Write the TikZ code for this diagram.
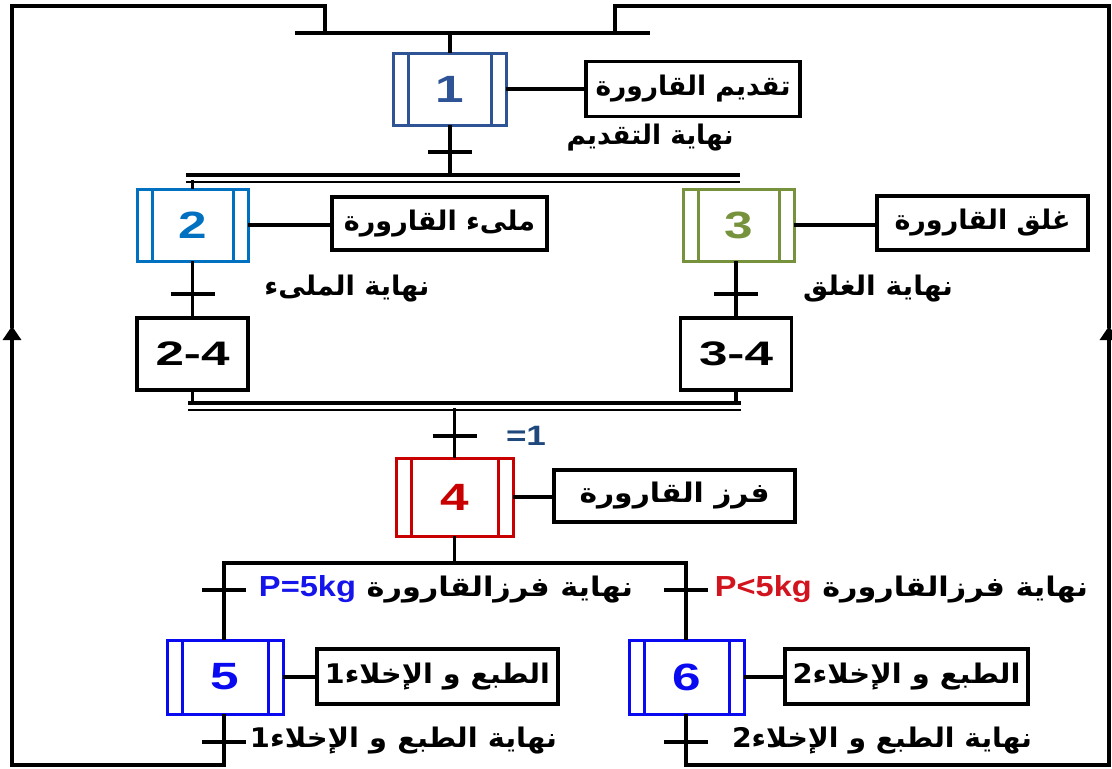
\documentclass[tikz,border=0pt]{standalone}
\usepackage{fontspec}
\usepackage{graphicx}
\setmainfont{Liberation Sans}
\newfontfamily\arfont[Script=Arabic]{DejaVu Sans}
\TeXXeTstate=1
\usetikzlibrary{arrows.meta}
\definecolor{cone}{RGB}{47,84,150}
\definecolor{ctwo}{RGB}{0,112,192}
\definecolor{cthree}{RGB}{118,146,60}
\definecolor{cfour}{RGB}{200,0,0}
\definecolor{cfive}{RGB}{10,10,240}
\definecolor{ceq}{RGB}{31,73,125}
\definecolor{pblue}{RGB}{20,20,235}
\definecolor{pred}{RGB}{210,20,30}
\newcommand\ARtxt[2]{\resizebox{#1}{\height}{\fontsize{27}{30}\selectfont\arfont\bfseries #2}}
\newcommand\stepnum[1]{\scalebox{1.35}[1]{\fontsize{38}{42}\selectfont\bfseries #1}}
\tikzset{
  ln/.style={line width=3.2pt, line cap=rect},
  dbar/.style={line width=2.6pt},
  stepbox/.style={draw=#1, text=#1, line width=3pt, minimum width=113pt, minimum height=72pt, inner sep=0pt,
    path picture={\draw[#1, line width=3pt]
      ([xshift=15pt]path picture bounding box.north west) -- ([xshift=15pt]path picture bounding box.south west)
      ([xshift=-15pt]path picture bounding box.north east) -- ([xshift=-15pt]path picture bounding box.south east);}},
  actbox/.style={draw, line width=3.8pt, inner sep=0pt},
  midbox/.style={draw, line width=3.6pt, inner sep=0pt, minimum width=111pt, minimum height=72pt},
  lbl/.style={inner sep=0pt},
  arr/.style={ln, -{Triangle[length=14pt,width=18pt]}},
}
\begin{document}
\begin{tikzpicture}[x=1pt,y=-1pt]
\useasboundingbox (0,0) rectangle (1112,769);
% frame coordinates
\coordinate (tl) at (12,6);
\coordinate (tr) at (1109,6);
\coordinate (bl) at (12,765);
\coordinate (br) at (1109,765);
\coordinate (al) at (12,326);
\coordinate (ar) at (1109,326);
\coordinate (jl) at (325,33);
\coordinate (jr) at (615,33);
\coordinate (tbA) at (295,33);
\coordinate (tbB) at (650,33);
% divergence / convergence bars
\coordinate (dA1) at (186,175); \coordinate (dB1) at (740,175);
\coordinate (dA2) at (186,182); \coordinate (dB2) at (740,182);
\coordinate (cA1) at (188,403); \coordinate (cB1) at (741,403);
\coordinate (cA2) at (188,410); \coordinate (cB2) at (741,410);
\coordinate (orA) at (224,563); \coordinate (orB) at (686,563);

% steps
\node[stepbox=cone] (s1) at (450,89) {\stepnum{1}};
\node[stepbox=ctwo, minimum width=111pt] (s2) at (192.5,225) {\stepnum{2}};
\node[stepbox=cthree, minimum width=111pt] (s3) at (739,225) {\stepnum{3}};
\node[midbox] (m24) at (192.5,354) {\resizebox{74pt}{\height}{\fontsize{34}{36}\selectfont\bfseries 2-4}};
\node[midbox] (m34) at (736,354) {\resizebox{74pt}{\height}{\fontsize{34}{36}\selectfont\bfseries 3-4}};
\node[stepbox=cfour, minimum width=117pt, minimum height=78pt] (s4) at (454.5,497) {\stepnum{4}};
\node[stepbox=cfive, minimum width=116pt, minimum height=74pt] (s5) at (225,677) {\stepnum{5}};
\node[stepbox=cfive, minimum width=115pt, minimum height=74pt] (s6) at (686.5,677) {\stepnum{6}};

% actions
\node[actbox, minimum width=214pt, minimum height=55pt] (a1) at (693,89) {\ARtxt{195pt}{\beginR تقديم القارورة\endR}};
\node[actbox, minimum width=215pt, minimum height=53pt] (a2) at (439.5,223.5) {\ARtxt{191pt}{\beginR ملىء القارورة\endR}};
\node[actbox, minimum width=211pt, minimum height=54pt] (a3) at (982.5,223) {\ARtxt{176pt}{\beginR غلق القارورة\endR}};
\node[actbox, minimum width=241pt, minimum height=52pt] (a4) at (674.5,496) {\ARtxt{190pt}{\beginR فرز القارورة\endR}};
\node[actbox, minimum width=241pt, minimum height=55pt] (a5) at (437.5,676.5) {\ARtxt{225pt}{\beginR الطبع و الإخلاء\beginL 1\endL\endR}};
\node[actbox, minimum width=243pt, minimum height=55pt] (a6) at (906.5,676.5) {\ARtxt{228pt}{\beginR الطبع و الإخلاء\beginL 2\endL\endR}};

% transition labels
\node[lbl] (l1) at (650,138) {\ARtxt{167pt}{\beginR نهاية التقديم\endR}};
\node[lbl] (l2) at (347,289) {\ARtxt{165pt}{\beginR نهاية الملىء\endR}};
\node[lbl] (l3) at (878,289) {\ARtxt{150pt}{\beginR نهاية الغلق\endR}};
\node[lbl, text=ceq] (l4) at (526,436) {\resizebox{40pt}{\height}{\fontsize{28}{30}\selectfont\bfseries =1}};
\node[lbl] (l5) at (446,589) {\ARtxt{374pt}{\beginR نهاية فرزالقارورة \beginL\textcolor{pblue}{\fontsize{29}{30}\selectfont\rmfamily\bfseries P=5kg}\endL\endR}};
\node[lbl] (l6) at (901.5,589) {\ARtxt{373pt}{\beginR نهاية فرزالقارورة \beginL\textcolor{pred}{\fontsize{29}{30}\selectfont\rmfamily\bfseries P<5kg}\endL\endR}};
\node[lbl] (l7) at (403.5,741) {\ARtxt{307pt}{\beginR نهاية الطبع و الإخلاء\beginL 1\endL\endR}};
\node[lbl] (l8) at (882,741) {\ARtxt{300pt}{\beginR نهاية الطبع و الإخلاء\beginL 2\endL\endR}};

% tick coordinates
\coordinate (t1) at (450,152);
\coordinate (t2) at (192.5,294);
\coordinate (t3) at (736,294);
\coordinate (t4) at (454.5,436);
\coordinate (t5) at (224,590);
\coordinate (t6) at (686,590);
\coordinate (t7) at (224,742);
\coordinate (t8) at (686,742);

% top bar and loops
\draw[line width=4.5pt] (tbA) -- (tbB);
\draw[ln] (s1.north) -- (s1.north |- tbA);
\draw[arr] (s5.south -| t7) |- (bl) -- (al);
\draw[ln] (al) -- (tl) -| (jl);
\draw[arr] (s6.south -| t8) |- (br) -- (ar);
\draw[ln] (ar) -- (tr) -| (jr);

% action links
\draw[ln] (s1.east) -- (s1.east -| a1.west);
\draw[ln] (s2.east) -- (s2.east -| a2.west);
\draw[ln] (s3.east) -- (s3.east -| a3.west);
\draw[ln] (s4.east) -- (s4.east -| a4.west);
\draw[ln] (s5.east) -- (s5.east -| a5.west);
\draw[ln] (s6.east) -- (s6.east -| a6.west);

% step 1 to AND divergence
\draw[ln] (s1.south) -- (s1.south |- dA1);
\draw[line width=3.2pt] (dA1) -- (dB1);
\draw[dbar] (dA2) -- (dB2);
\draw[ln] (s2.north |- dA2) -- (s2.north);
\draw[ln] (s3.north -| m34) -- (s3.north -| m34 |- dA2);
\draw[ln] (s2.south) -- (m24.north);
\draw[ln] (s3.south -| m34) -- (m34.north);
% AND convergence
\draw[ln] (m24.south) -- (m24.south |- cA1);
\draw[ln] (m34.south) -- (m34.south |- cA1);
\draw[line width=3.2pt] (cA1) -- (cB1);
\draw[dbar] (cA2) -- (cB2);
\draw[ln] (s4.north |- cA2) -- (s4.north);
% OR divergence
\draw[ln] (s4.south) -- (s4.south |- orA);
\draw[ln] (orA) -- (orB);
\draw[ln] (orA) -- (s5.north -| orA);
\draw[ln] (orB) -- (s6.north -| orB);

% ticks
\foreach \t in {t1,t2,t3,t4,t5,t6,t7,t8}
  \draw[ln, line cap=butt] ([xshift=-22pt]\t) -- ([xshift=22pt]\t);
\end{tikzpicture}
\end{document}
